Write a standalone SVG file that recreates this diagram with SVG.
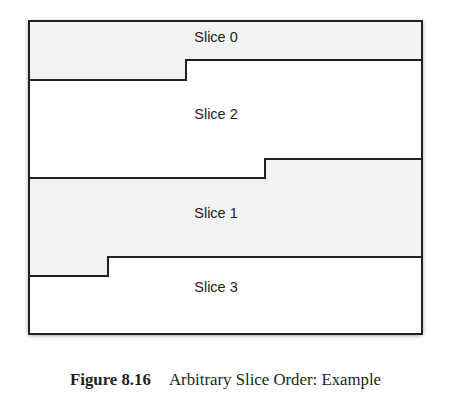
<svg xmlns="http://www.w3.org/2000/svg" width="459" height="401" viewBox="0 0 459 401">
<defs>
<filter id="sh" x="-10%" y="-10%" width="120%" height="120%">
<feGaussianBlur in="SourceAlpha" stdDeviation="2.5"/>
<feOffset dx="0" dy="1" result="b"/>
<feComponentTransfer><feFuncA type="linear" slope="0.5"/></feComponentTransfer>
<feMerge><feMergeNode/><feMergeNode in="SourceGraphic"/></feMerge>
</filter>
</defs>
<style>
.g{fill:#f2f2f2;stroke:none}
.w{fill:#ffffff;stroke:none}
.ln{fill:none;stroke:#231f20;stroke-width:2}
.t{font-family:"Liberation Sans",Arial,sans-serif;font-size:14.5px;fill:#231f20;text-anchor:middle}
.cap{font-family:"Liberation Serif","Times New Roman",serif;font-size:16.8px;fill:#231f20}
</style>
<rect x="29" y="21" width="393" height="313" fill="#fff" filter="url(#sh)"/>
<g id="slice0">
<path class="g" d="M29,21 H422 V60 H186 V80 H29 Z"/>
<text class="t" x="216" y="42">Slice 0</text>
</g>
<g id="slice2">
<path class="w" d="M29,80 H186 V60 H422 V159 H265 V178 H29 Z"/>
<text class="t" x="216" y="119">Slice 2</text>
</g>
<g id="slice1">
<path class="g" d="M29,178 H265 V159 H422 V257 H108 V276 H29 Z"/>
<text class="t" x="216" y="218">Slice 1</text>
</g>
<g id="slice3">
<path class="w" d="M29,276 H108 V257 H422 V334 H29 Z"/>
<text class="t" x="216" y="292">Slice 3</text>
</g>
<g id="lines">
<rect class="ln" x="29" y="21" width="393" height="313"/>
<path class="ln" d="M29,80 H186 V60 H422"/>
<path class="ln" d="M29,178 H265 V159 H422"/>
<path class="ln" d="M29,276 H108 V257 H422"/>
</g>
<text class="cap" x="70" y="385"><tspan font-weight="bold">Figure 8.16</tspan><tspan x="169">Arbitrary Slice Order: Example</tspan></text>
</svg>
